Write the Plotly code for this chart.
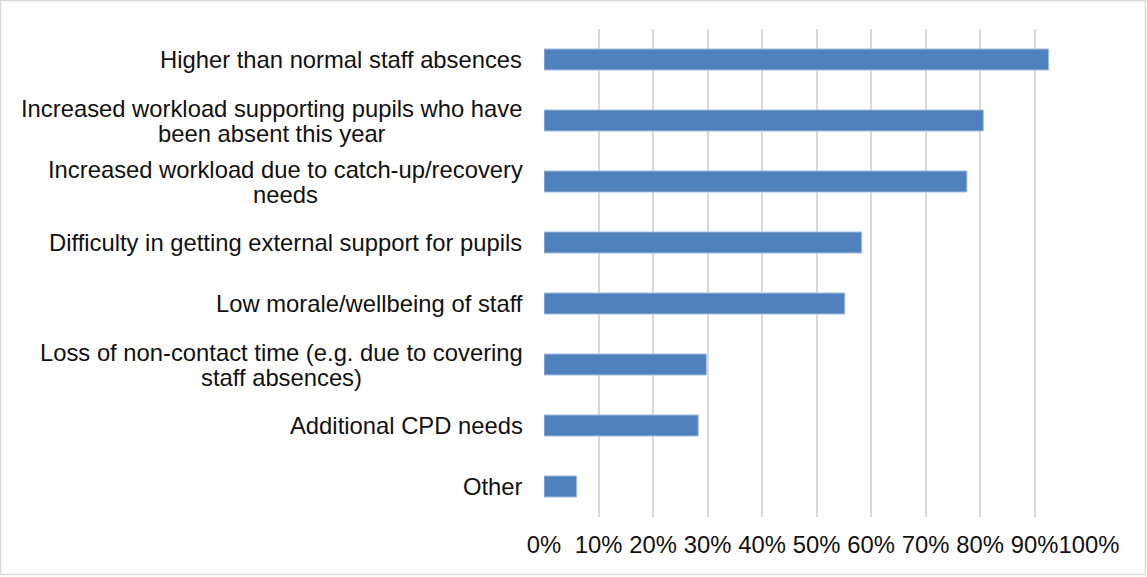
import plotly.graph_objects as go

# Survey responses: share of schools reporting each pressure
categories = [
    "Higher than normal staff absences",
    "Increased workload supporting pupils who have\nbeen absent this year",
    "Increased workload due to catch-up/recovery\nneeds",
    "Difficulty in getting external support for pupils",
    "Low morale/wellbeing of staff",
    "Loss of non-contact time (e.g. due to covering\nstaff absences)",
    "Additional CPD needs",
    "Other",
]
shares = [0.926, 0.806, 0.776, 0.583, 0.552, 0.298, 0.283, 0.060]
tick_values = [0, 0.1, 0.2, 0.3, 0.4, 0.5, 0.6, 0.7, 0.8, 0.9, 1.0]
tick_labels = ["0%", "10%", "20%", "30%", "40%", "50%", "60%", "70%", "80%", "90%", "100%"]

W, H = 1147, 577
ML, MR, MT, MB = 544, 58, 29, 60
FONT = "Liberation Sans, Arial, sans-serif"
FS = 23.8
LINE_GAP = 25          # px between wrapped label lines
LABEL_RIGHT = 522.5    # px, right edge of category labels
TEXT = "#111111"

# Advance widths (1/1000 em) of Liberation Sans, used to centre wrapped lines
_ADV = {" ": 278, "(": 333, ")": 333, "-": 333, ".": 278, "/": 278, "%": 889}
_ADV.update({d: 556 for d in "0123456789"})
_ADV.update(dict(zip("ABCDEFGHIJKLMNOPQRSTUVWXYZ",
                     [667, 667, 722, 722, 667, 611, 778, 722, 278, 500, 667, 556, 833,
                      722, 778, 667, 778, 722, 667, 611, 722, 667, 944, 667, 667, 611])))
_ADV.update(dict(zip("abcdefghijklmnopqrstuvwxyz",
                     [556, 556, 500, 556, 556, 278, 556, 556, 222, 222, 500, 222, 833,
                      556, 556, 556, 556, 333, 500, 278, 556, 500, 722, 500, 500, 500])))


def text_width(s, size):
    return sum(_ADV.get(c, 556) for c in s) * size / 1000.0


fig = go.Figure(
    go.Bar(
        x=shares,
        y=list(range(len(categories))),
        orientation="h",
        marker=dict(color="#4F81BD", line=dict(color="#A7BFE0", width=1)),
        hoverinfo="skip",
    )
)

# Category labels: block right-aligned to the axis, lines centred on each other
for i, label in enumerate(categories):
    lines = label.split("\n")
    block = max(text_width(ln, FS) for ln in lines)
    centre = LABEL_RIGHT - block / 2.0
    n = len(lines)
    for k, ln in enumerate(lines):
        fig.add_annotation(
            x=0, xref="paper", y=i, yref="y",
            text=ln, showarrow=False,
            xanchor="center", yanchor="middle", align="center",
            xshift=centre - ML,
            yshift=((n - 1) / 2.0 - k) * LINE_GAP,
            font=dict(family=FONT, size=FS, color=TEXT),
        )

# Light outer frame of the chart area
pw, ph = W - ML - MR, H - MT - MB


def px(xp):
    return (xp - ML) / pw


def py(yp):
    return (H - MB - yp) / ph


fig.add_shape(
    type="rect", xref="paper", yref="paper",
    x0=px(0.5), x1=px(W - 1.5), y0=py(0.5), y1=py(H - 2.5),
    line=dict(color="#D9D9D9", width=1.5), layer="below",
)

fig.update_layout(
    width=W, height=H,
    margin=dict(l=ML, r=MR, t=MT, b=MB, autoexpand=False),
    paper_bgcolor="white", plot_bgcolor="white",
    showlegend=False,
    bargap=0.655,
    font=dict(family=FONT, size=FS, color=TEXT),
    xaxis=dict(
        range=[0, 1], tickvals=tick_values, ticktext=tick_labels,
        showgrid=True, gridcolor="#D9D9D9", gridwidth=2,
        zeroline=False, showline=False, ticks="",
        tickangle=0, automargin=False,
        ticklabelstandoff=11,
        tickfont=dict(family=FONT, size=FS, color=TEXT),
        fixedrange=True,
    ),
    yaxis=dict(
        range=[len(categories) - 0.5, -0.5],
        showticklabels=False, showgrid=False, zeroline=False,
        showline=False, ticks="", automargin=False,
        fixedrange=True,
    ),
)

fig.write_html("out.html")
